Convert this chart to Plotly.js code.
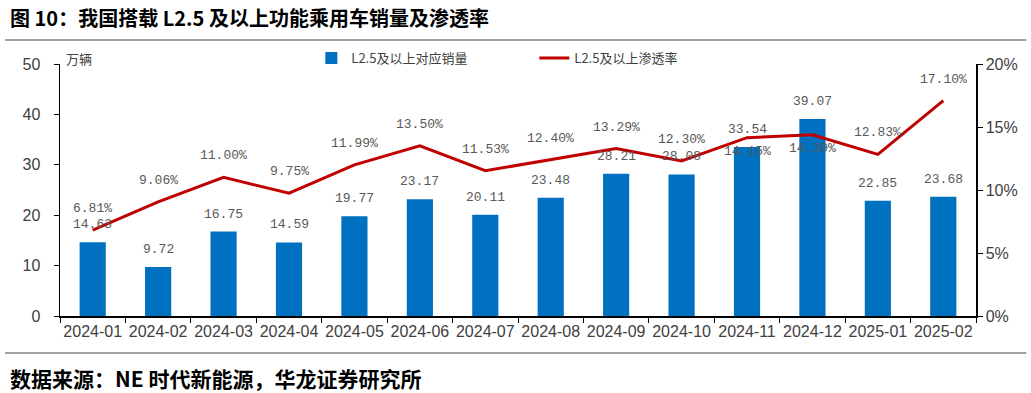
<!DOCTYPE html>
<html><head><meta charset="utf-8">
<script src="https://cdn.plot.ly/plotly-3.0.1.min.js"></script>
<style>body{margin:0;background:#fff}#c{width:1031px;height:393px}</style>
</head><body><div id="c"></div>
<script>
const months = ["2024-01","2024-02","2024-03","2024-04","2024-05","2024-06","2024-07","2024-08","2024-09","2024-10","2024-11","2024-12","2025-01","2025-02"];
const sales = [14.63,9.72,16.75,14.59,19.77,23.17,20.11,23.48,28.21,28.08,33.54,39.07,22.85,23.68];
const rate = [6.81,9.06,11.00,9.75,11.99,13.50,11.53,12.40,13.29,12.30,14.15,14.39,12.83,17.10];
const rateLabelBelow = [false,false,false,false,false,false,false,false,false,false,true,true,false,false];
const salesName = "L2.5及以上对应销量";
const rateName = "L2.5及以上渗透率";

const labelFont = {family:"Liberation Mono, DejaVu Sans Mono, monospace", size:13, color:"#595959"};
const cjk = "Noto Sans CJK SC, Noto Sans, sans-serif";

const annotations = [];
months.forEach((m,i)=>{
  annotations.push({x:m, y:sales[i], xref:'x', yref:'y', text:sales[i].toFixed(2), showarrow:false, yanchor:'bottom', yshift:8, font:labelFont});
  annotations.push({x:m, y:rate[i]/100, xref:'x', yref:'y2', text:rate[i].toFixed(2)+'%', showarrow:false,
    yanchor: rateLabelBelow[i] ? 'top' : 'bottom', yshift: rateLabelBelow[i] ? -4 : 12, font:labelFont});
});
annotations.push({xref:'paper', yref:'paper', x:-0.057, y:1.183, xanchor:'left', yanchor:'middle', showarrow:false,
  text:"<b>图 10：我国搭载 L2.5 及以上功能乘用车销量及渗透率</b>", font:{family:cjk, size:20, color:"#000"}});
annotations.push({xref:'paper', yref:'paper', x:-0.057, y:-0.246, xanchor:'left', yanchor:'middle', showarrow:false,
  text:"<b>数据来源：NE 时代新能源，华龙证券研究所</b>", font:{family:cjk, size:21, color:"#000"}});
annotations.push({xref:'paper', yref:'paper', x:0.004, y:1.02, xanchor:'left', yanchor:'middle', showarrow:false,
  text:"万辆", font:{family:cjk, size:13, color:"#404040"}});

const traces = [
  {type:'bar', x:months, y:sales, name:salesName, marker:{color:'#0070C0', line:{width:0}}, yaxis:'y', hoverinfo:'skip'},
  {type:'scatter', mode:'lines', x:months, y:rate.map(v=>v/100), name:rateName, line:{color:'#C00000', width:3}, yaxis:'y2', hoverinfo:'skip'}
];

const tickFont = {family:"Liberation Sans, Arial, sans-serif", size:16, color:"#404040"};
const layout = {
  width:1031, height:393,
  margin:{l:60, r:55, t:64, b:77},
  paper_bgcolor:'#fff', plot_bgcolor:'#fff',
  showlegend:true,
  legend:{orientation:'h', x:0.2744, y:1.024, xanchor:'left', yanchor:'middle', font:{family:cjk, size:13, color:'#404040'},
    itemwidth:30, entrywidth:178, entrywidthmode:'pixels', bgcolor:'rgba(0,0,0,0)'},
  bargap:0.6,
  xaxis:{type:'category', showgrid:false, showline:true, linecolor:'#000', linewidth:1.5, ticks:'outside', ticklen:5, tickcolor:'#000',
    tickson:'boundaries', tickangle:0, tickfont:tickFont, fixedrange:true},
  yaxis:{range:[0,50], dtick:10, showgrid:false, zeroline:false, showline:true, linecolor:'#000', linewidth:1.5, ticks:'outside', ticklen:5,
    tickcolor:'#000', tickfont:tickFont, ticklabelstandoff:10, fixedrange:true},
  yaxis2:{range:[0,0.2], dtick:0.05, tickformat:'.0%', overlaying:'y', side:'right', showgrid:false, zeroline:false, showline:true,
    linecolor:'#000', linewidth:1.5, ticks:'outside', ticklen:5, tickcolor:'#000', tickfont:tickFont, fixedrange:true},
  shapes:[
    {type:'line', xref:'paper', yref:'paper', x0:-0.06, x1:1.055, y0:1.095, y1:1.095, line:{color:'#808080', width:1.5}},
    {type:'line', xref:'paper', yref:'paper', x0:-0.06, x1:1.055, y0:-0.147, y1:-0.147, line:{color:'#808080', width:1.5}}
  ],
  annotations:annotations
};
Plotly.newPlot('c', traces, layout, {displayModeBar:false, staticPlot:true});
</script></body></html>
